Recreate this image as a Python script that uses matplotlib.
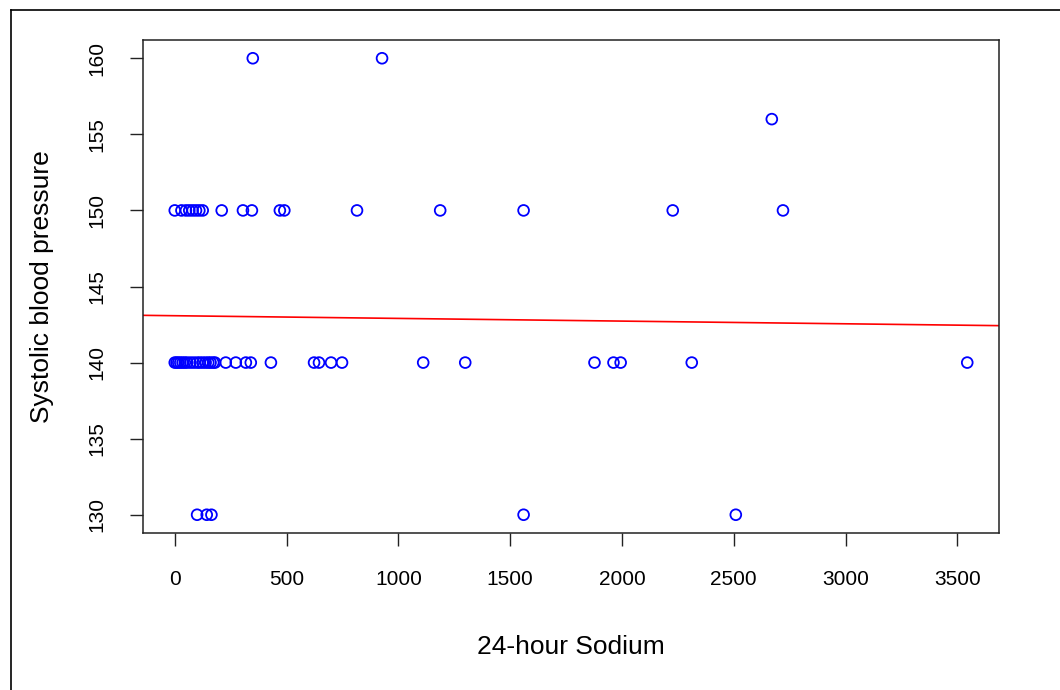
import matplotlib
matplotlib.use("Agg")
import matplotlib.pyplot as plt
from matplotlib.lines import Line2D

# data (24-hour sodium vs systolic BP)
sodium_140 = [0, 8, 16, 25, 35, 45, 55, 70, 85, 100, 112, 125, 138, 150, 160, 172, 180,
              228, 273, 318, 340, 430, 623, 645, 699, 748, 1111, 1299, 1877, 1962, 1994, 2312, 3544]
sodium_150 = [0, 30, 50, 65, 80, 95, 110, 125, 210, 305, 345, 470, 490, 815, 1187, 1560, 2227, 2720]
sodium_130 = [100, 143, 164, 1560, 2509]
sodium_160 = [349, 927]
sodium_156 = [2670]

x = sodium_140 + sodium_150 + sodium_130 + sodium_160 + sodium_156
y = ([140] * len(sodium_140) + [150] * len(sodium_150) + [130] * len(sodium_130)
     + [160] * len(sodium_160) + [156] * len(sodium_156))

# fitted line (abline)
intercept = 143.08
slope = -0.000177

xticks = [0, 500, 1000, 1500, 2000, 2500, 3000, 3500]
yticks = [130, 135, 140, 145, 150, 155, 160]

plt.rcParams['font.family'] = ['Liberation Sans', 'DejaVu Sans']

fig = plt.figure(figsize=(10.6, 6.9), dpi=100)
ax = fig.add_axes([143/1060, 1-533/690, (999-143)/1060, (533-40)/690])

ax.scatter(x, y, s=60, facecolors='none', edgecolors='blue', linewidths=1.3, zorder=3)
ax.axline((0, intercept), slope=slope, color='red', lw=1.2, zorder=2)

ax.set_xlim(-142, 3686)
ax.set_ylim(128.8, 161.2)
ax.set_xticks(xticks)
ax.set_yticks(yticks)
ax.set_yticklabels([str(v) for v in yticks], rotation=90, va='center')
ax.tick_params(axis='both', length=9.5, width=1, labelsize=15, pad=17, color='#222222')
for s in ax.spines.values():
    s.set_linewidth(1.1)
    s.set_color('#222222')

ax.set_xlabel('24-hour Sodium', fontsize=19, labelpad=33)
ax.set_ylabel('Systolic blood pressure', fontsize=19, labelpad=24)

# outer frame (left and top edges visible in the reference)
fig.add_artist(Line2D([10.5/1060, 10.5/1060], [0, 1-9.5/690], transform=fig.transFigure, color='black', lw=1.2))
fig.add_artist(Line2D([10.5/1060, 1], [1-9.5/690, 1-9.5/690], transform=fig.transFigure, color='black', lw=1.2))

fig.savefig('out.png', dpi=100)
